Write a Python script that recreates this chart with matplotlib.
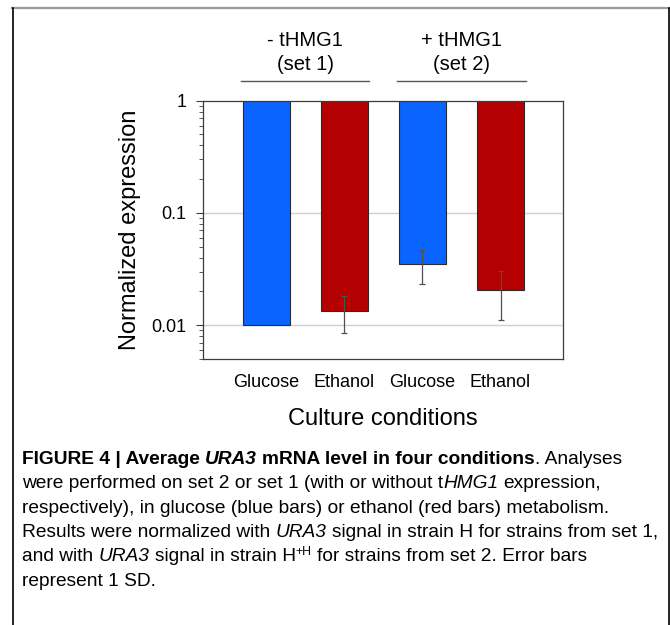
import matplotlib
matplotlib.use("Agg")
import matplotlib.pyplot as plt
from matplotlib.lines import Line2D
from matplotlib.transforms import IdentityTransform, blended_transform_factory
import numpy as np

# ---------------- data ----------------
categories = ["Glucose", "Ethanol", "Glucose", "Ethanol"]
values = [0.0100, 0.0134, 0.0349, 0.0207]
errors = [0.0, 0.0048, 0.0118, 0.0095]
conditions = ["glucose", "ethanol", "glucose", "ethanol"]
group_labels = ["- tHMG1\n(set 1)", "+ tHMG1\n(set 2)"]
group_members = [[0, 1], [2, 3]]
ytick_values = [0.01, 0.1, 1]
ytick_labels = ["0.01", "0.1", "1"]
xlabel = "Culture conditions"
ylabel = "Normalized expression"

# ---------------- style ----------------
W, H = 670, 625
DPI = 100
plt.rcParams["font.family"] = ["Liberation Sans", "DejaVu Sans"]
colors = {"glucose": "#0a64ff", "ethanol": "#b40000"}

fig = plt.figure(figsize=(W / DPI, H / DPI), dpi=DPI)
fig.patch.set_facecolor("white")

# axes placement in pixels (left, top, right, bottom from top)
L, T, R, B = 203, 100.7, 563, 359
ax = fig.add_axes([L / W, 1 - B / H, (R - L) / W, (B - T) / H])
ax.set_yscale("log")
ax.set_ylim(0.005, 1)
x = np.arange(len(values))
ax.set_xlim(-0.81, len(values) - 1 + 0.80)

vals = np.array(values)
ax.bar(x, 1 - vals, bottom=vals, width=0.6,
       color=[colors[c] for c in conditions],
       edgecolor="#2a2a2a", linewidth=0.8, zorder=2)

errs = np.array(errors)
m = errs > 0
ax.errorbar(x[m], vals[m], yerr=errs[m], fmt="none", ecolor="#505050",
            elinewidth=0.9, capsize=2.2, capthick=0.9, zorder=3)

# grid lines
for v in ytick_values[:-1]:
    ax.axhline(v, color="#d0d0d0", linewidth=1.0, zorder=0)

for s in ax.spines.values():
    s.set_color("#3c3c3c")
    s.set_linewidth(0.9)

ax.set_yticks(ytick_values)
ax.set_yticklabels(ytick_labels)
ax.tick_params(axis="y", which="major", length=5, width=0.8, color="#3c3c3c",
               labelsize=13, pad=7)
ax.tick_params(axis="y", which="minor", length=3, width=0.6, color="#3c3c3c")
ax.yaxis.set_minor_locator(matplotlib.ticker.LogLocator(base=10, subs=np.arange(2, 10)))
ax.yaxis.set_minor_formatter(matplotlib.ticker.NullFormatter())

ax.set_xticks(x)
ax.set_xticklabels(categories)
ax.tick_params(axis="x", length=0, labelsize=13, pad=11)
ax.set_xlabel(xlabel, fontsize=17, labelpad=12)
ax.set_ylabel(ylabel, fontsize=17, labelpad=7)

# group header brackets
blend = blended_transform_factory(ax.transData, fig.transFigure)
for lab, mem in zip(group_labels, group_members):
    x0, x1 = x[mem[0]] - 0.32, x[mem[-1]] + 0.32
    fig.add_artist(Line2D([x0, x1], [1 - 81 / H] * 2, transform=blend,
                          color="#555555", linewidth=1.0))
    l1, l2 = lab.split("\n")
    xc = (x0 + x1) / 2
    fig.text(xc, 1 - 41 / H, l1, transform=blend, ha="center", va="center", fontsize=14.5)
    fig.text(xc, 1 - 64 / H, l2, transform=blend, ha="center", va="center", fontsize=14.5)

# frame
idt = IdentityTransform()
fig.add_artist(Line2D([12, W], [H - 8, H - 8], transform=idt, color="#9a9a9a", linewidth=1.6))
fig.add_artist(Line2D([12.5, 12.5], [0, H - 8], transform=idt, color="black", linewidth=1.2))
fig.add_artist(Line2D([668.5, 668.5], [0, H - 8], transform=idt, color="black", linewidth=1.2))

# caption with mixed styles
cap_size = 13.75
renderer = fig.canvas.get_renderer()


def text_width(s, **kw):
    t = fig.text(0, 0, s, transform=idt, **kw)
    w = t.get_window_extent(renderer).width
    t.remove()
    return w


def draw_runs(x0, baseline_from_top, runs):
    xcur = x0
    y = H - baseline_from_top
    for s, kw in runs:
        kw = dict(kw)
        size = kw.pop("size", cap_size)
        rise = kw.pop("rise", 0)
        base = dict(fontsize=size, **kw)
        sw = text_width("a a", **base) - text_width("aa", **base)
        lead = len(s) - len(s.lstrip(" "))
        trail = len(s) - len(s.rstrip(" "))
        core = s.strip(" ")
        xcur += lead * sw
        if core:
            t = fig.text(xcur, y + rise, core, transform=idt, va="baseline", ha="left", **base)
            xcur += t.get_window_extent(renderer).width
        xcur += trail * sw


N = {}
BO = {"fontweight": "bold"}
BI = {"fontweight": "bold", "fontstyle": "italic"}
IT = {"fontstyle": "italic"}
SUP = {"size": cap_size * 0.65, "rise": 6}

lines = [
    [("FIGURE 4 | Average ", BO), ("URA3", BI), (" mRNA level in four conditions", BO), (". Analyses", N)],
    [("were performed on set 2 or set 1 (with or without t", N), ("HMG1", IT), (" expression,", N)],
    [("respectively), in glucose (blue bars) or ethanol (red bars) metabolism.", N)],
    [("Results were normalized with ", N), ("URA3", IT), (" signal in strain H for strains from set 1,", N)],
    [("and with ", N), ("URA3", IT), (" signal in strain H", N), ("+H", SUP), (" for strains from set 2. Error bars", N)],
    [("represent 1 SD.", N)],
]
for i, ln in enumerate(lines):
    draw_runs(22, 464 + 24.3 * i, ln)

fig.savefig("out.png", dpi=DPI)
